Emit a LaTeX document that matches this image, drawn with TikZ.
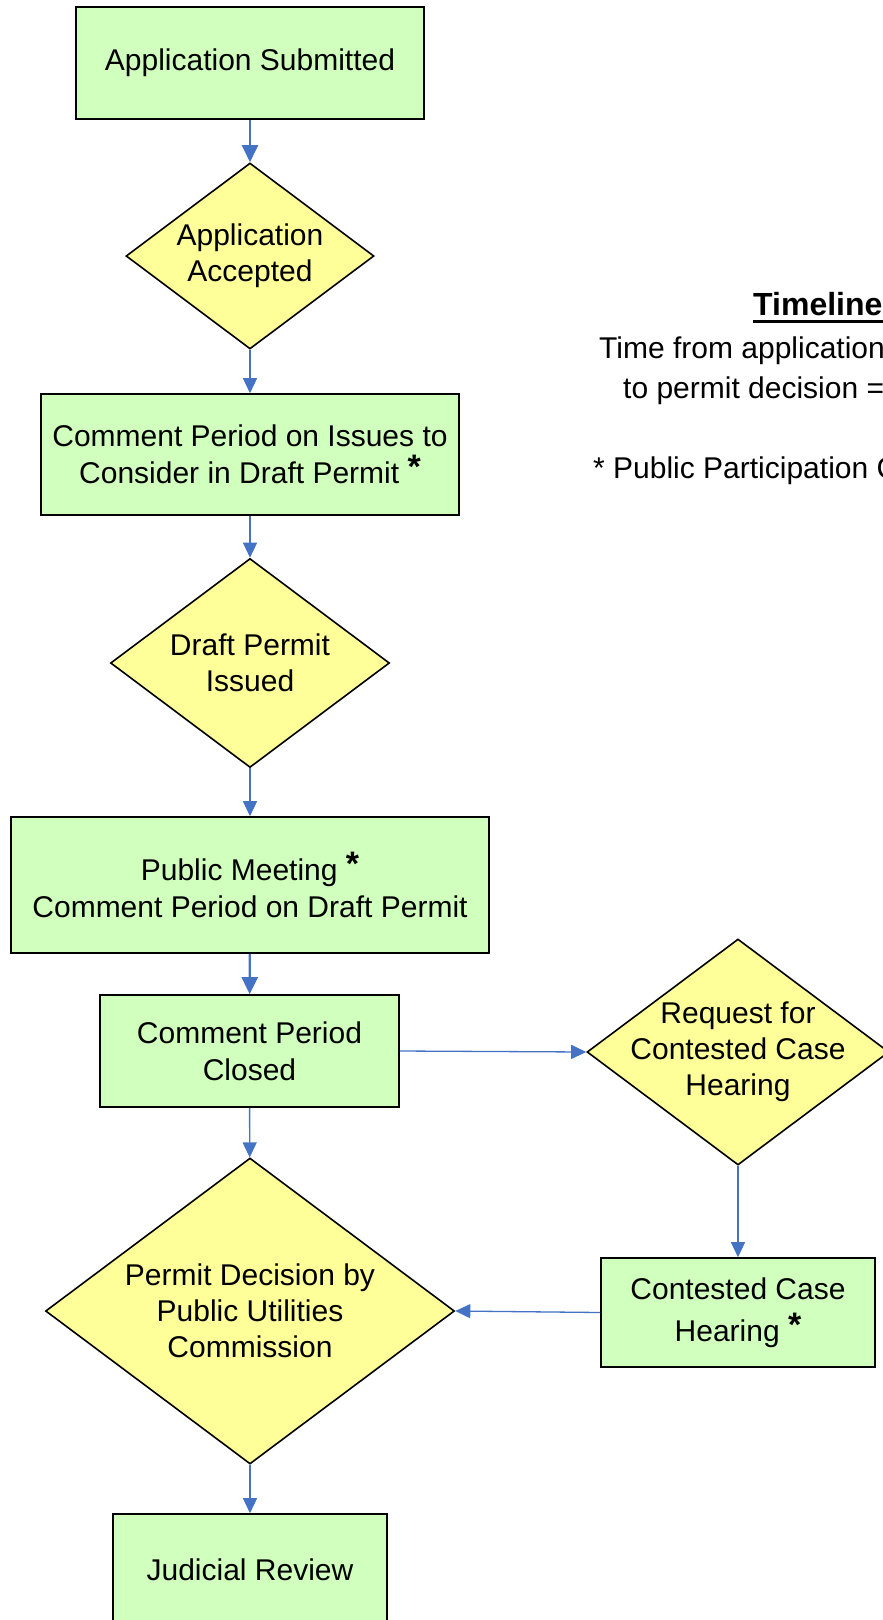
\documentclass[tikz,border=0pt]{standalone}
\usepackage{fontspec}
\setmainfont{Liberation Sans}
\usetikzlibrary{shapes.geometric,arrows.meta}
\definecolor{boxgreen}{RGB}{208,255,190}
\definecolor{diayellow}{RGB}{255,255,153}
\definecolor{arrowblue}{RGB}{68,114,196}
\newcommand{\pstar}{\raisebox{5pt}{\fontsize{34}{34}\selectfont\bfseries *}}
\begin{document}
\begin{tikzpicture}[x=1pt,y=-1pt,
  proc/.style={rectangle, draw=black, line width=1.6pt, fill=boxgreen, inner sep=0pt,
    align=center, font=\fontsize{30}{37}\selectfont},
  dec/.style={diamond, draw=black, line width=1.6pt, fill=diayellow, inner sep=0pt},
  lbl/.style={align=center, inner sep=0pt, font=\fontsize{30}{36}\selectfont},
  note/.style={anchor=base west, inner sep=0pt, font=\fontsize{30}{36}\selectfont},
  flow/.style={draw=arrowblue, line width=1.3pt, -{Triangle[length=15pt,width=14pt]}},
  flowthick/.style={flow, line width=2.2pt, -{Triangle[length=17pt,width=16pt]}}]
\clip (0,0) rectangle (883,1620);
\fill[white] (0,0) rectangle (883,1620);

% process boxes
\node[proc, minimum width=348pt, minimum height=112pt] (b1) at (250,63) {Application Submitted};
\node[proc, minimum width=418pt, minimum height=121pt] (b2) at (250,454.5) {Comment Period on Issues to\\Consider in Draft Permit \pstar};
\node[proc, minimum width=478pt, minimum height=136pt] (b3) at (250,885) {Public Meeting \pstar\\Comment Period on Draft Permit};
\node[proc, minimum width=299pt, minimum height=112pt] (b4) at (249.5,1051) {Comment Period\\Closed};
\node[proc, minimum width=274pt, minimum height=112pt] (b5) at (250,1570) {Judicial Review};
\node[proc, minimum width=274pt, minimum height=109pt,
  font=\fontsize{30}{42}\selectfont] (b6) at (738,1312.5) {Contested Case\\Hearing \pstar};

% decision diamonds
\node[dec, minimum width=248pt, minimum height=186pt] (d1) at (250,256) {};
\node[lbl] at (d1) {Application\\Accepted};
\node[dec, minimum width=279pt, minimum height=209pt] (d2) at (250,663) {};
\node[lbl] at (d2) {Draft Permit\\Issued};
\node[dec, minimum width=409pt, minimum height=306pt] (d3) at (250,1311) {};
\node[lbl] at (d3) {Permit Decision by\\Public Utilities\\Commission};
\node[dec, minimum width=302pt, minimum height=226pt] (d4) at (738,1052) {};
\node[lbl] at (d4) {Request for\\Contested Case\\Hearing};

% connectors
\draw[flowthick] (b1) -- (d1);
\draw[flow] (d1) -- (b2);
\draw[flow] (b2) -- (d2);
\draw[flow] (d2) -- (b3);
\draw[flowthick] (b3) -- (b4);
\draw[flow] (b4) -- (d3);
\draw[flow] (d3) -- (b5);
\draw[flow] (b4.east) -- (d4.west);
\draw[flow] (d4) -- (b6);
\draw[flow] (b6.west) -- (d3.east);

% timeline notes
\node[note, font=\fontsize{32}{36}\selectfont\bfseries] (tl) at (753,315) {Timeline};
\draw[line width=3pt] ([yshift=-6pt]tl.base west) -- ([yshift=-6pt]tl.base east);
\node[note] (t1) at (599,358) {Time from application};
\node[note] (t2) at (623,398) {to permit decision =};
\node[note] (t3) at (593,478) {* Public Participation C};
\end{tikzpicture}
\end{document}
